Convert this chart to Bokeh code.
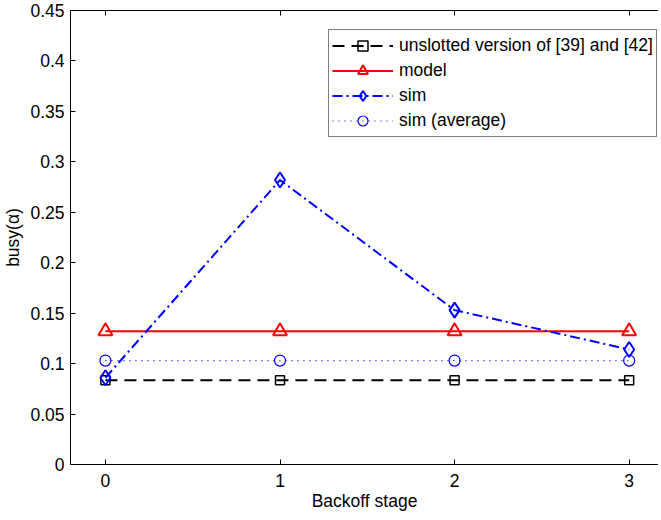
from bokeh.plotting import figure
from bokeh.models import FixedTicker, LinearAxis, Legend, LegendItem, Range1d, CustomJSTickFormatter
from bokeh.embed import file_html
from bokeh.resources import INLINE

# ---- data ----
stages = [0, 1, 2, 3]
unslotted = [0.0835, 0.0835, 0.0835, 0.0835]
model = [0.132, 0.132, 0.132, 0.132]
sim = [0.086, 0.282, 0.153, 0.114]
sim_avg = [0.103, 0.103, 0.103, 0.103]
x_ticks = [0, 1, 2, 3]
y_ticks = [0, 0.05, 0.1, 0.15, 0.2, 0.25, 0.3, 0.35, 0.4, 0.45]
y_tick_labels = ["0", "0.05", "0.1", "0.15", "0.2", "0.25", "0.3", "0.35", "0.4", "0.45"]
series_labels = ["unslotted version of [39] and [42]", "model", "sim", "sim (average)"]

FONT = "Liberation Sans"
FS = "17.5px"

p = figure(frame_width=588, frame_height=454,
           x_range=Range1d(-0.2, 3.168), y_range=Range1d(0, 0.45),
           output_backend="svg", toolbar_location=None,
           min_border_left=65, min_border_right=0,
           min_border_top=10, min_border_bottom=40)
p.background_fill_color = "white"
p.border_fill_color = "white"
p.outline_line_color = None
p.xgrid.visible = False
p.ygrid.visible = False

top_axis = LinearAxis(ticker=FixedTicker(ticks=x_ticks),
                      formatter=CustomJSTickFormatter(code="return ''"),
                      major_label_standoff=0)
p.add_layout(top_axis, "above")

xa = p.below[0]
ya = p.left[0]
xa.ticker = FixedTicker(ticks=x_ticks)
ya.ticker = FixedTicker(ticks=y_ticks)
ya.major_label_overrides = dict(zip(y_ticks, y_tick_labels))

for ax in (xa, ya, top_axis):
    ax.major_tick_in = 5
    ax.major_tick_out = 0
    ax.minor_tick_in = 0
    ax.minor_tick_out = 0
    ax.axis_line_color = "black"
    ax.axis_line_width = 1
    ax.major_tick_line_color = "black"
    ax.major_tick_line_width = 1
    ax.major_label_text_font = FONT
    ax.major_label_text_color = "black"

for ax in (xa, ya):
    ax.major_label_text_font_size = FS
    ax.axis_label_text_font = FONT
    ax.axis_label_text_font_size = FS
    ax.axis_label_text_font_style = "normal"
    ax.axis_label_text_color = "black"

xa.axis_label = "Backoff stage"
xa.major_label_standoff = 9
xa.axis_label_standoff = 1
ya.axis_label = "busy(α)"
ya.major_label_standoff = 6
ya.axis_label_standoff = 4

r1l = p.line(stages, unslotted, line_color="black", line_width=1.8, line_dash="12 7")
r1m = p.scatter(stages, unslotted, marker="square", size=9, fill_color=None,
                line_color="black", line_width=1.5)
r2l = p.line(stages, model, line_color="red", line_width=2)
r2m = p.scatter(stages, model, marker="triangle", size=14, fill_color=None,
                line_color="red", line_width=2)
r3l = p.line(stages, sim, line_color="blue", line_width=2, line_dash="10 4 2 4")
r3m = p.scatter(stages, sim, marker="diamond", size=15, fill_color=None,
                line_color="blue", line_width=2)
r4l = p.line(stages, sim_avg, line_color="blue", line_width=1.2, line_dash="1 5")
r4m = p.scatter(stages, sim_avg, marker="circle", size=11, fill_color=None,
                line_color="blue", line_width=1.2)

legend = Legend(items=[
    LegendItem(label=series_labels[0], renderers=[r1l, r1m]),
    LegendItem(label=series_labels[1], renderers=[r2l, r2m]),
    LegendItem(label=series_labels[2], renderers=[r3l, r3m]),
    LegendItem(label=series_labels[3], renderers=[r4l, r4m]),
], location=(258, 327), margin=0, padding=3, spacing=0,
   glyph_width=61, glyph_height=25, label_height=20, label_standoff=6,
   label_text_font=FONT, label_text_font_size=FS, label_text_color="black",
   border_line_color="black", border_line_width=1,
   background_fill_color="white", background_fill_alpha=1.0)
p.add_layout(legend)

open("out.html", "w").write(file_html(p, INLINE))
